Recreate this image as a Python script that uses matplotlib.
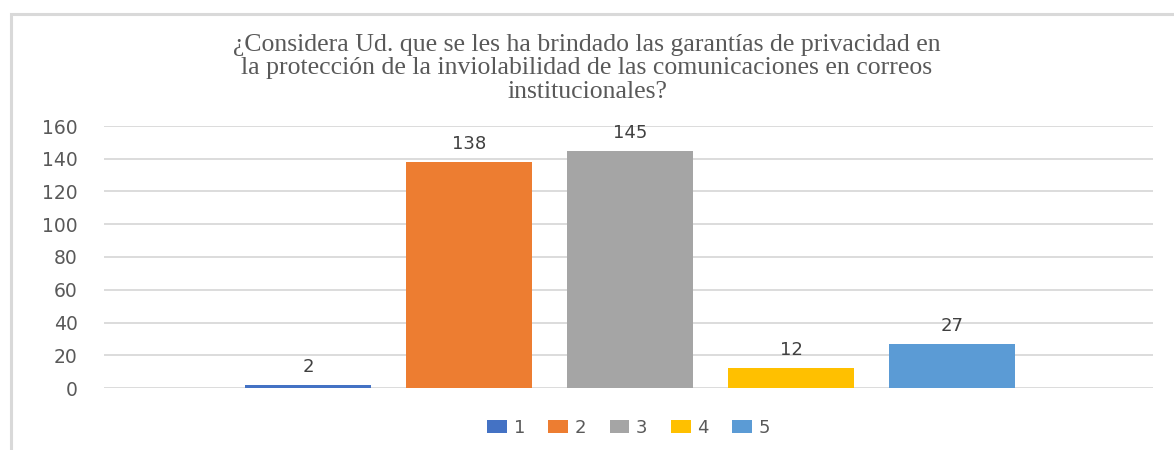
import matplotlib.pyplot as plt
from matplotlib.patches import Rectangle

# data
labels = ["1", "2", "3", "4", "5"]
values = [2, 138, 145, 12, 27]
colors = ["#4472C4", "#ED7D31", "#A5A5A5", "#FFC000", "#5B9BD5"]
yticks = [0, 20, 40, 60, 80, 100, 120, 140, 160]
title = ("¿Considera Ud. que se les ha brindado las garantías de privacidad en\n"
         "la protección de la inviolabilidad de las comunicaciones en correos\n"
         "institucionales?")

plt.rcParams['font.family'] = ['DejaVu Sans']

W, H = 1174, 450
fig = plt.figure(figsize=(W / 100, H / 100), dpi=100)

# outer chart frame (cut at right and bottom)
fig.patches.append(Rectangle((11 / W, -0.1), 1.2, (H - 14) / H + 0.1,
                             transform=fig.transFigure, fill=False,
                             edgecolor="#D9D9D9", linewidth=2.2))

ax = fig.add_axes([104 / W, 62 / H, (1153 - 104) / W, (388 - 126) / H])

spacing = 161 / 126
width = 1.0
n = len(values)
offsets = [(i - (n - 1) / 2) * spacing for i in range(n)]
for off, v, c, lab in zip(offsets, values, colors, labels):
    ax.bar(off, v, width=width, color=c, label=lab, zorder=3)
    ax.text(off, v + 5.5, str(v), ha="center", va="bottom", fontsize=13,
            color="#404040")

half = (1153 - 104) / 126 / 2
ax.set_xlim(-half - 0.012, half - 0.012)
ax.set_ylim(0, 160)
ax.set_yticks(yticks)
ax.set_xticks([])
ax.grid(axis="y", color="#D9D9D9", linewidth=1.3, zorder=0)
for s in ax.spines.values():
    s.set_visible(False)
ax.tick_params(axis="y", length=0, pad=19, labelsize=13.5, labelcolor="#595959")

fig.text(0.5, 0.925, title, ha="center", va="top", fontsize=18.5,
         family="Liberation Serif", color="#595959", linespacing=1.1)

leg = ax.legend(loc="center", bbox_to_anchor=(0.5, (428 - 388) / -(388 - 126)),
                ncol=5, frameon=False, fontsize=13, handlelength=1.1,
                handleheight=0.75, handletextpad=0.35, columnspacing=1.3)
for t in leg.get_texts():
    t.set_color("#595959")

fig.savefig("out.png", dpi=100)
